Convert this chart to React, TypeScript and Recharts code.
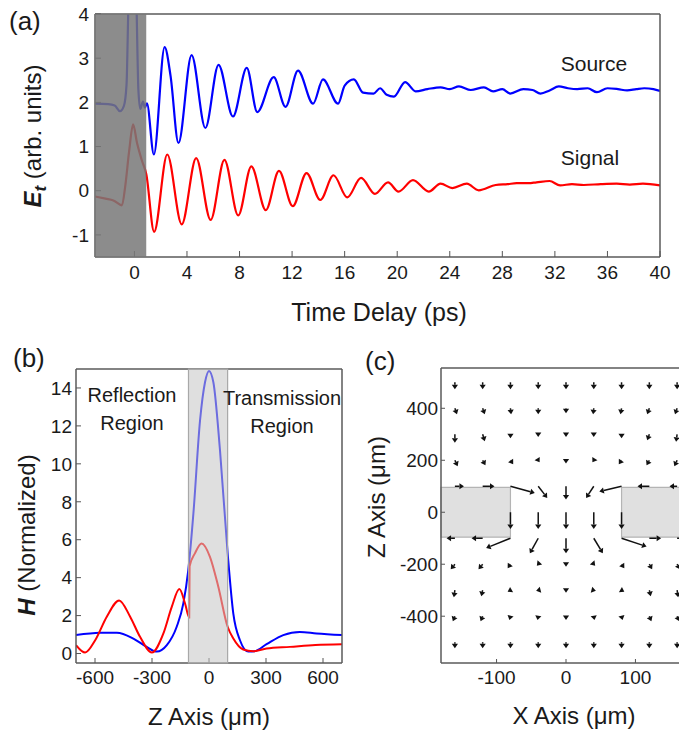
import React from "react";
import { ComposedChart, Line, Scatter, XAxis, YAxis, ReferenceArea, ReferenceLine } from "recharts";

const FONT = '"Liberation Sans", Arial, Helvetica, sans-serif';

// (a) measured THz traces, time in ps
const sourceTime = [-3, -2, -1.5, -1.1, -0.8, -0.6, -0.45, -0.15, 0.15, 0.3, 0.45, 0.65, 0.8, 0.95, 1.48, 2.3, 2.75, 3.35, 4.35, 5.4, 6.4, 7.5, 8.55, 9.35, 10.6, 11.5, 12.45, 13.6, 14.35, 15.5, 16.0, 16.7, 17.4, 18.2, 18.7, 19.2, 19.75, 20.6, 21.4, 22.3, 23.3, 24.0, 24.7, 25.6, 26.6, 27.3, 28.0, 28.6, 29.6, 30.3, 30.9, 31.6, 32.3, 33.0, 33.7, 34.5, 35.2, 36.0, 36.8, 37.5, 38.2, 38.8, 39.5, 40];
const sourceField = [1.97, 1.96, 1.93, 1.8, 1.92, 2.4, 4.3, 6.0, 4.3, 2.3, 1.85, 2.02, 1.88, 1.98, 0.82, 3.25, 2.6, 1.08, 3.07, 1.42, 2.85, 1.68, 2.78, 1.78, 2.57, 1.9, 2.72, 1.97, 2.52, 1.97, 2.38, 2.52, 2.22, 2.2, 2.32, 2.17, 2.13, 2.46, 2.25, 2.3, 2.34, 2.3, 2.36, 2.28, 2.34, 2.25, 2.3, 2.2, 2.3, 2.28, 2.2, 2.27, 2.36, 2.32, 2.3, 2.32, 2.23, 2.32, 2.3, 2.27, 2.3, 2.32, 2.3, 2.26];
const signalTime = [-3, -2.2, -1.6, -0.95, -0.7, -0.4, -0.1, 0.2, 0.55, 0.9, 1.5, 2.5, 3.6, 4.7, 5.8, 6.85, 7.9, 8.9, 10.0, 11.0, 12.05, 13.1, 14.15, 15.15, 16.2, 17.25, 18.3, 19.3, 20.1, 21.2, 22.4, 23.3, 24.2, 25.3, 26.2, 27.5, 28.4, 29.1, 30.0, 30.6, 31.6, 32.4, 33.3, 34.2, 35.5, 36.7, 37.7, 38.7, 40];
const signalField = [-0.13, -0.18, -0.22, -0.33, 0.1, 0.9, 1.5, 1.08, 0.7, 0.38, -0.93, 0.82, -0.76, 0.74, -0.66, 0.7, -0.56, 0.55, -0.44, 0.45, -0.35, 0.4, -0.21, 0.35, -0.15, 0.29, -0.07, 0.19, -0.02, 0.24, -0.02, 0.16, 0.06, 0.16, 0.01, 0.13, 0.15, 0.17, 0.17, 0.19, 0.22, 0.12, 0.15, 0.13, 0.15, 0.16, 0.14, 0.16, 0.12];
const delayTicks = [0, 4, 8, 12, 16, 20, 24, 28, 32, 36, 40];
const delayMinor = [-2, -1, 0, 1, 2, 3, 4, 5, 6, 7, 8, 9, 10, 11, 12, 13, 14, 15, 16, 17, 18, 19, 20, 21, 22, 23, 24, 25, 26, 27, 28, 29, 30, 31, 32, 33, 34, 35, 36, 37, 38, 39];
const fieldTicks = [-1, 0, 1, 2, 3, 4];
const fieldMinor = [-1, -0.5, 0, 0.5, 1, 1.5, 2, 2.5, 3, 3.5];

// (b) field profiles along Z
const zBlue = [-700, -573, -485, -398, -328, -275, -222, -170, -135, -109, -82, -47, -21, 0, 23, 58, 98, 128, 163, 207, 240, 303, 391, 478, 566, 700];
const hBlue = [0.97, 1.09, 1.1, 0.79, 0.35, 0.1, 0.44, 1.41, 2.64, 4.4, 7.4, 12.3, 14.3, 14.9, 14.3, 10.7, 5.3, 2.1, 0.7, 0.1, 0.12, 0.49, 0.97, 1.14, 1.06, 0.97];
const zRed = [-700, -652, -599, -538, -473, -415, -363, -301, -240, -196, -156, -126, -104, -102, -74, -39, 5, 49, 98, 128, 180, 233, 303, 426, 560, 700];
const hRed = [0.44, 0.05, 0.7, 1.94, 2.8, 1.94, 0.88, 0.05, 1.06, 2.46, 3.4, 2.64, 1.9, 4.6, 5.28, 5.8, 5.1, 3.52, 1.41, 0.79, 0.21, 0.12, 0.26, 0.35, 0.45, 0.49];
const zTicks = [-600, -300, 0, 300, 600];
const hTicks = [0, 2, 4, 6, 8, 10, 12, 14];

// (c) quiver field, tail at grid point, [dx, dz] in µm
const gridX = [-160, -120, -80, -40, 0, 40, 80, 120, 160];
const gridZ = [500, 400, 300, 200, 100, 0, -100, -200, -300, -400, -500];
const fieldRows: ([number, number] | null)[][] = [
  [[0, -27], [0, -27], [0, -27], [0, -27], [0, -27], [0, -27], [0, -27], [0, -27], [0, -27]],
  [[3, -23], [3, -23], [1, -23], [0, -23], [0, -19], [-1, -23], [-1.5, -23], [-3, -23], [-3, -23]],
  [[0, -33], [3, -27], [0, -15], [0, -10], [0, -10], [0, -10], [0, -15], [-3, -23], [-1.5, -29]],
  [[4, -23], [4, -19], [4, -15], [2, -8], [0, -12], [-2, -8], [-4, -15], [-4, -19], [-4, -23]],
  [[13, 0], [17, 0], [35, -26], [13, -45], [0, -51], [-11, -45], [-32, -20], [-17, 0], [-11, 0]],
  [null, null, [0, -64], [0, -64], [0, -64], [0, -64], [0, -64], null, null],
  [[-12, 0], [-16, 0], [-35, -38], [-12, -58], [0, -58], [13, -58], [36, -32], [17, 0], [12, 0]],
  [[-6, -19], [-6, -19], [-4, -15], [-2, -6], [0, -10], [2, -6], [4, -15], [4, -19], [4, -19]],
  [[-1.5, -27], [-2, -23], [-4, -6], [-3, -2], [0, -10], [3, -2], [4, -6], [2, -23], [1.5, -27]],
  [[-3, -19], [-3, -19], [-1.5, -15], [-1, -15], [0, -15], [1, -15], [1.5, -15], [3, -19], [3, -19]],
  [[0, -23], [0, -23], [0, -23], [0, -23], [0, -23], [0, -23], [0, -23], [0, -23], [0, -23]],
];
const xTicksC = [-100, 0, 100];
const xMinorC = [-160, -140, -120, -100, -80, -60, -40, -20, 0, 20, 40, 60, 80, 100, 120, 140, 160];
const zTicksC = [-400, -200, 0, 200, 400];

const sourceData = sourceTime.map((t, i) => ({ t, v: sourceField[i] }));
const signalData = signalTime.map((t, i) => ({ t, v: signalField[i] }));
const blueProfile = zBlue.map((z, i) => ({ z, h: hBlue[i] }));
const redProfile = zRed.map((z, i) => ({ z, h: hRed[i] }));
const arrows = gridZ.flatMap((z, r) =>
  gridX.map((x, c) => ({ x, z, vec: fieldRows[r][c] })).filter((a) => a.vec !== null)
);

const frame = { stroke: "#5a5a5a", strokeWidth: 1.5 };
const tickStyle = { fontSize: 19, fill: "#1a1a1a" };
const tl = { stroke: "#555" };

// quiver arrow: stem from tail to head base, filled head at the tip
function Arrow(props: any) {
  const { x1, y1, x2, y2 } = props;
  const dx = x2 - x1;
  const dy = y2 - y1;
  const len = Math.hypot(dx, dy);
  if (!len) return null;
  const ux = dx / len;
  const uy = dy / len;
  const head = 4.5;
  const half = 3.1;
  const bx = x2 - ux * head;
  const by = y2 - uy * head;
  const pts = `${x2},${y2} ${bx - uy * half},${by + ux * half} ${bx + uy * half},${by - ux * half}`;
  return (
    <g>
      {len > head && <line x1={x1} y1={y1} x2={bx} y2={by} stroke="#111" strokeWidth={1.5} />}
      <polygon points={pts} fill="#111" />
    </g>
  );
}

const Txt = ({ x, y, size, children, rotate, anchor }: any) => (
  <div
    style={{
      position: "absolute",
      left: x,
      top: y,
      fontSize: size,
      lineHeight: 1,
      whiteSpace: "nowrap",
      color: "#1a1a1a",
      transform: `translate(${anchor === "left" ? "0" : "-50%"}, -50%)${rotate ? " rotate(-90deg)" : ""}`,
    }}
  >
    {children}
  </div>
);

export default function App() {
  return (
    <div style={{ position: "absolute", left: 0, top: 0, width: 679, height: 732, overflow: "hidden", background: "#fff", fontFamily: FONT }}>
      {/* (a) */}
      <div style={{ position: "absolute", left: 0, top: 0 }}>
        <ComposedChart width={679} height={330} margin={{ top: 12, right: 18, bottom: 71, left: 93 }}>
          <XAxis xAxisId="a" dataKey="t" type="number" domain={[-3, 40]} allowDataOverflow ticks={delayTicks} interval={0} height={1} tickSize={-6} tickMargin={15} tick={tickStyle} axisLine={frame} tickLine={tl} />
          <XAxis xAxisId="aMin" dataKey="t" type="number" domain={[-3, 40]} allowDataOverflow ticks={delayMinor} interval={0} height={1} tickSize={-3} tick={false} axisLine={false} tickLine={tl} />
          <XAxis xAxisId="aTop" orientation="top" dataKey="t" type="number" domain={[-3, 40]} allowDataOverflow ticks={delayMinor} interval={0} height={1} tickSize={-3} tick={false} axisLine={frame} tickLine={tl} />
          <XAxis xAxisId="aTopMaj" orientation="top" dataKey="t" type="number" domain={[-3, 40]} allowDataOverflow ticks={delayTicks} interval={0} height={1} tickSize={-6} tick={false} axisLine={false} tickLine={tl} />
          <YAxis yAxisId="a" type="number" domain={[-1.5, 4]} allowDataOverflow ticks={fieldTicks} interval={0} width={1} tickSize={-6} tickMargin={12} tick={tickStyle} axisLine={frame} tickLine={tl} />
          <YAxis yAxisId="aMin" type="number" domain={[-1.5, 4]} allowDataOverflow ticks={fieldMinor} interval={0} width={1} tickSize={-3} tick={false} axisLine={false} tickLine={tl} />
          <YAxis yAxisId="aR" orientation="right" type="number" domain={[-1.5, 4]} allowDataOverflow ticks={fieldMinor} interval={0} width={1} tickSize={-4} tick={false} axisLine={frame} tickLine={tl} />
          <Line xAxisId="a" yAxisId="a" data={sourceData} dataKey="v" type="monotone" stroke="#0000ff" strokeWidth={2.2} dot={false} isAnimationActive={false} />
          <Line xAxisId="a" yAxisId="a" data={signalData} dataKey="v" type="monotone" stroke="#ff0000" strokeWidth={2.2} dot={false} isAnimationActive={false} />
          <ReferenceArea xAxisId="a" yAxisId="a" x1={-3} x2={0.9} y1={-1.5} y2={4} fill="#787878" fillOpacity={0.85} stroke="none" zIndex={1000} />
        </ComposedChart>
      </div>
      <Txt x={9} y={21} size={26} anchor="left">(a)</Txt>
      <Txt x={35} y={136} size={24} rotate>
        <b><i>E<sub style={{ fontSize: 17 }}>t</sub></i></b> (arb. units)
      </Txt>
      <Txt x={379} y={312} size={25}>Time Delay (ps)</Txt>
      <Txt x={594} y={63} size={21}>Source</Txt>
      <Txt x={590} y={157} size={21}>Signal</Txt>

      {/* (b) */}
      <div style={{ position: "absolute", left: 0, top: 340 }}>
        <ComposedChart width={360} height={392} margin={{ top: 28, right: 17, bottom: 68, left: 75 }}>
          <XAxis xAxisId="b" dataKey="z" type="number" domain={[-700, 700]} allowDataOverflow ticks={zTicks} interval={0} height={1} tickSize={-5} tickMargin={13} tick={tickStyle} axisLine={frame} tickLine={tl} />
          <XAxis xAxisId="bTop" orientation="top" dataKey="z" type="number" domain={[-700, 700]} allowDataOverflow ticks={zTicks} height={1} tickSize={0} tick={false} axisLine={frame} tickLine={false} />
          <YAxis yAxisId="b" type="number" domain={[-0.5, 15]} allowDataOverflow ticks={hTicks} interval={0} width={1} tickSize={-5} tickMargin={9} tick={tickStyle} axisLine={frame} tickLine={tl} />
          <YAxis yAxisId="bR" orientation="right" type="number" domain={[-0.5, 15]} allowDataOverflow ticks={hTicks} width={1} tickSize={0} tick={false} axisLine={frame} tickLine={false} />
          <Line xAxisId="b" yAxisId="b" data={blueProfile} dataKey="h" type="monotone" stroke="#0000ff" strokeWidth={2} dot={false} isAnimationActive={false} />
          <Line xAxisId="b" yAxisId="b" data={redProfile} dataKey="h" type="monotone" stroke="#ff0000" strokeWidth={2} dot={false} isAnimationActive={false} />
          <ReferenceArea xAxisId="b" yAxisId="b" x1={-108} x2={98} y1={-0.5} y2={15} fill="#c4c4c4" fillOpacity={0.55} stroke="#a8a8a8" strokeWidth={1.2} zIndex={1000} />
        </ComposedChart>
      </div>
      <Txt x={13} y={358} size={26} anchor="left">(b)</Txt>
      <Txt x={27} y={535} size={24} rotate>
        <b><i>H</i></b> (Normalized)
      </Txt>
      <Txt x={209} y={717} size={24}>Z Axis (μm)</Txt>
      <Txt x={132} y={395} size={20}>Reflection</Txt>
      <Txt x={132} y={423} size={20}>Region</Txt>
      <Txt x={282} y={398} size={20}>Transmission</Txt>
      <Txt x={282} y={426} size={20}>Region</Txt>

      {/* (c) */}
      <div style={{ position: "absolute", left: 360, top: 340 }}>
        <ComposedChart width={340} height={392} margin={{ top: 27, right: 9, bottom: 68, left: 80 }}>
          <XAxis xAxisId="c" dataKey="x" type="number" domain={[-180, 180]} allowDataOverflow ticks={xTicksC} interval={0} height={1} tickSize={-4} tickMargin={12} tick={tickStyle} axisLine={frame} tickLine={tl} />
          <XAxis xAxisId="cTop" orientation="top" dataKey="x" type="number" domain={[-180, 180]} allowDataOverflow ticks={xMinorC} interval={0} height={1} tickSize={-3} tick={false} axisLine={frame} tickLine={tl} />
          <YAxis yAxisId="c" dataKey="z" type="number" domain={[-580, 555]} allowDataOverflow ticks={zTicksC} interval={0} width={1} tickSize={-4} tickMargin={7} tick={tickStyle} axisLine={frame} tickLine={tl} />
          <ReferenceArea xAxisId="c" yAxisId="c" x1={-180} x2={-80} y1={-96} y2={96} fill="#e0e0e0" fillOpacity={1} stroke="#b4b4b4" strokeWidth={1.2} />
          <ReferenceArea xAxisId="c" yAxisId="c" x1={80} x2={180} y1={-96} y2={96} fill="#e0e0e0" fillOpacity={1} stroke="#b4b4b4" strokeWidth={1.2} />
          <Scatter xAxisId="c" yAxisId="c" data={arrows} dataKey="z" shape={() => <g />} isAnimationActive={false} />
          {arrows.map((a, i) => (
            <ReferenceLine
              key={i}
              xAxisId="c"
              yAxisId="c"
              segment={[{ x: a.x, y: a.z }, { x: a.x + a.vec![0], y: a.z + a.vec![1] }]}
              shape={Arrow}
              ifOverflow="visible"
            />
          ))}
        </ComposedChart>
      </div>
      <Txt x={365} y={361} size={26} anchor="left">(c)</Txt>
      <Txt x={377} y={497} size={24} rotate>Z Axis (μm)</Txt>
      <Txt x={574} y={716} size={24}>X Axis (μm)</Txt>
    </div>
  );
}
